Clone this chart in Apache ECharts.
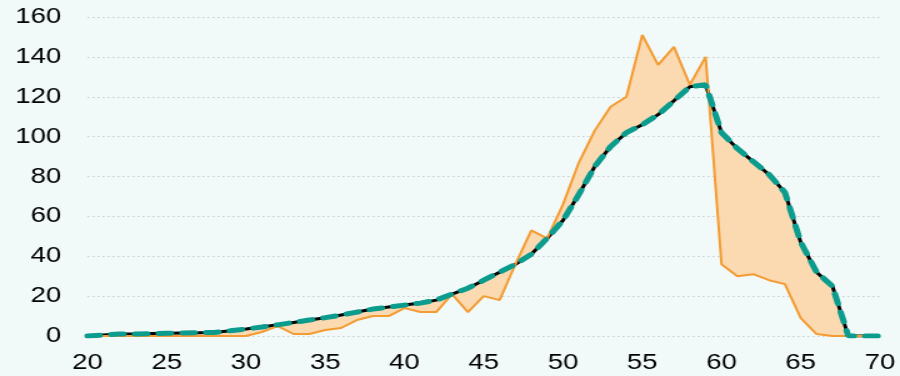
<!DOCTYPE html>
<html>
<head>
<meta charset="utf-8">
<script src="https://cdn.jsdelivr.net/npm/echarts@6/dist/echarts.min.js"></script>
<style>
  html, body { margin: 0; padding: 0; background: #f2faf9; overflow: hidden; }
  #wrap { width: 900px; height: 376px; overflow: hidden; }
  /* chart is laid out 720 wide and widened to the 900px frame */
  #chart { width: 720px; height: 376px; transform: scaleX(1.25); transform-origin: 0 0; }
</style>
</head>
<body>
<div id="wrap"><div id="chart"></div></div>
<script>
// Age on the horizontal axis
const ages = [20, 21, 22, 23, 24, 25, 26, 27, 28, 29,
              30, 31, 32, 33, 34, 35, 36, 37, 38, 39,
              40, 41, 42, 43, 44, 45, 46, 47, 48, 49,
              50, 51, 52, 53, 54, 55, 56, 57, 58, 59,
              60, 61, 62, 63, 64, 65, 66, 67, 68, 69, 70];

// Observed counts (orange line)
const actual = [0, 0, 0, 0, 0, 0, 0, 0, 0, 0,
                0, 2, 5, 1, 1, 3, 4, 8, 10, 10,
                14, 12, 12, 21, 12, 20, 18, 36, 53, 49,
                66, 87, 103, 115, 120, 151, 136, 145, 126, 140,
                36, 30, 31, 28, 26, 9, 1, 0, 0, 0, 0];

// Fitted curve (black line with teal dashes)
const fitted = [0, 0.5, 1, 1, 1.2, 1.4, 1.5, 1.6, 1.8, 2.6,
                3.5, 4.5, 5.6, 6.8, 8, 9.2, 10.5, 12, 13.5, 14.5,
                15.5, 16.5, 18, 21, 24, 28, 32, 36, 41, 49,
                58, 71, 85, 95, 102, 106, 111, 118, 125, 126,
                102, 94, 87.5, 81, 72, 47, 32, 25, 0, 0, 0];

// Axis ranges
const xRange = [20, 70, 5];
const yRange = [0, 160, 20];

const pairs = (ys) => ages.map((a, i) => [a, ys[i]]);

const chart = echarts.init(document.getElementById('chart'), null, { renderer: 'canvas' });

const font = "'Liberation Sans', Arial, sans-serif";

chart.setOption({
  animation: false,
  backgroundColor: '#f2faf9',
  grid: { left: 70, right: 16, top: 17, bottom: 40, containLabel: false },
  xAxis: {
    type: 'value',
    min: xRange[0], max: xRange[1], interval: xRange[2],
    axisLine: { show: false },
    axisTick: { show: false },
    splitLine: { show: false },
    axisLabel: { color: '#000', fontSize: 22, fontFamily: font, margin: 16 }
  },
  yAxis: {
    type: 'value',
    min: yRange[0], max: yRange[1], interval: yRange[2],
    axisLine: { show: false },
    axisTick: { show: false },
    splitLine: { show: true, lineStyle: { color: '#c9cdcd', type: [1.5, 2.5], width: 1 } },
    axisLabel: { color: '#000', fontSize: 22, fontFamily: font, margin: 21 }
  },
  series: [
    {
      // shaded band between observed and fitted
      type: 'custom',
      silent: true,
      z: 1,
      data: [[ages[0], 0]],
      renderItem: function (params, api) {
        const pts = [];
        for (let i = 0; i < ages.length; i++) pts.push(api.coord([ages[i], actual[i]]));
        for (let i = ages.length - 1; i >= 0; i--) pts.push(api.coord([ages[i], fitted[i]]));
        return { type: 'polygon', shape: { points: pts }, style: { fill: '#fbd9b1' } };
      }
    },
    {
      type: 'line', z: 2, data: pairs(fitted), symbol: 'none', silent: true,
      lineStyle: { color: '#000', width: 3 }
    },
    {
      type: 'line', z: 3, data: pairs(actual), symbol: 'none', silent: true,
      lineStyle: { color: '#f39c33', width: 2 }
    },
    {
      type: 'line', z: 4, data: pairs(fitted), symbol: 'none', silent: true,
      lineStyle: { color: '#0c9c8e', width: 5, type: [10, 9], cap: 'round' }
    }
  ]
});
</script>
</body>
</html>
